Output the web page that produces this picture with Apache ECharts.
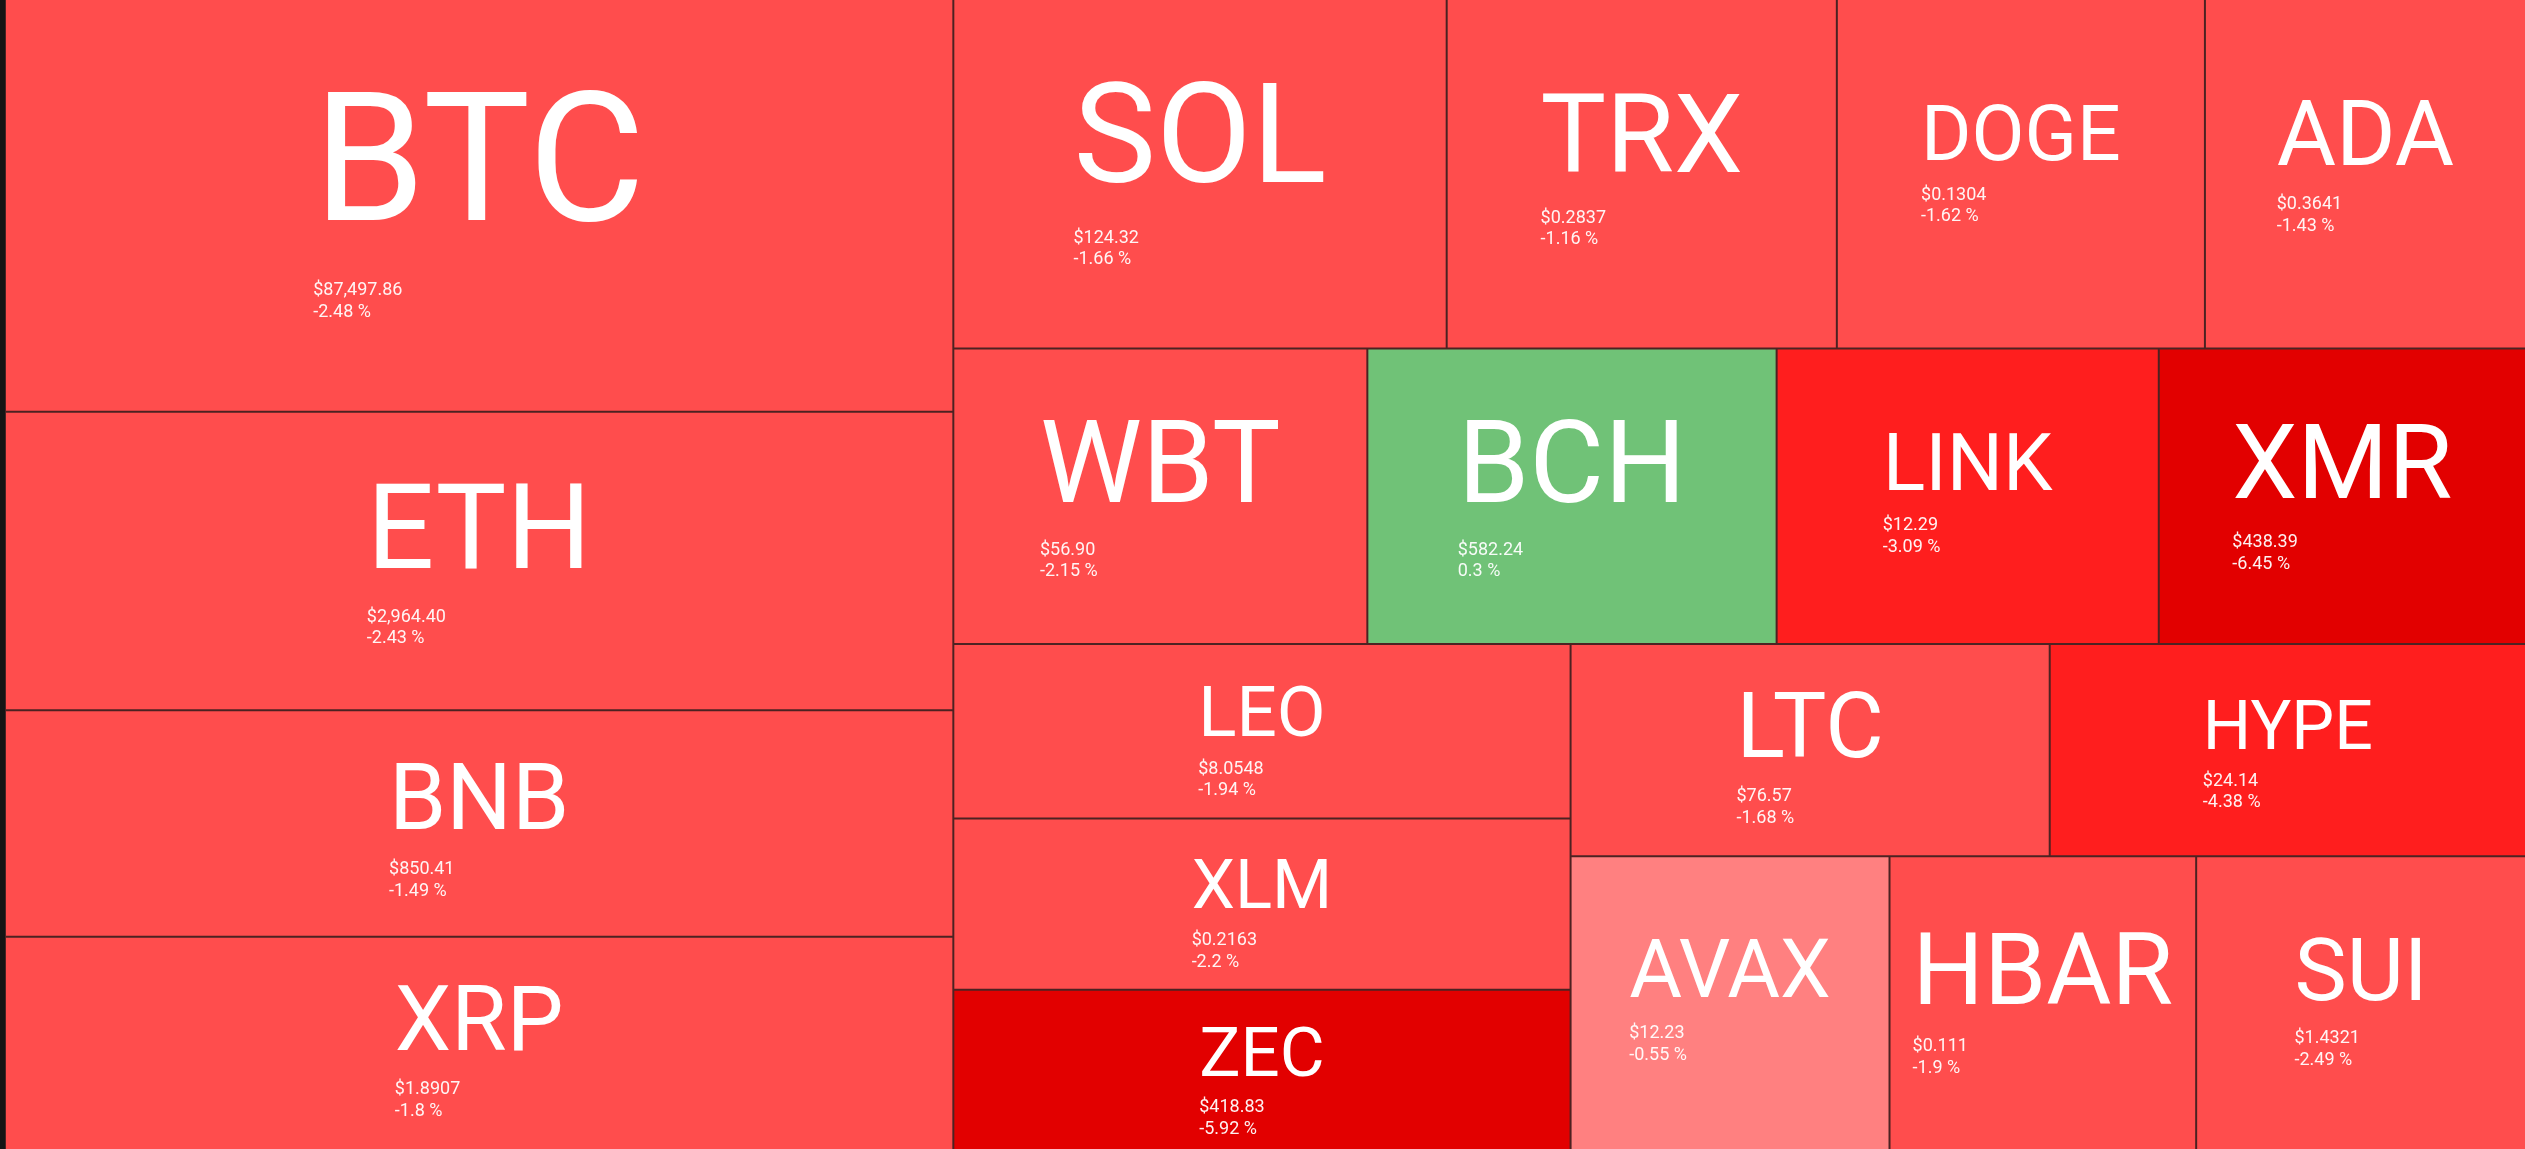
<!DOCTYPE html>
<html>
<head>
<meta charset="utf-8">
<script src="https://cdn.jsdelivr.net/npm/echarts@6/dist/echarts.min.js"></script>
<style>
  html, body { margin: 0; padding: 0; background: #151515; overflow: hidden; }
  #main { width: 2525px; height: 1149px; }
</style>
</head>
<body>
<div id="main"></div>
<script>
// ---------------- data ----------------
const tickers = ['BTC','ETH','BNB','XRP','SOL','TRX','DOGE','ADA','WBT','BCH','LINK','XMR','LEO','XLM','ZEC','LTC','HYPE','SUI','AVAX','HBAR'];
// relative tile size (area weight)
const sizes   = [390.6,282.5,214.2,201.9,172.1,136.1,128.4,112.0,122.1,120.7,112.7,108.3,107.4,105.5,98.7,101.4,100.8,96.7,93.5,89.9];
const prices  = [87497.86,2964.40,850.41,1.8907,124.32,0.2837,0.1304,0.3641,56.90,582.24,12.29,438.39,8.0548,0.2163,418.83,76.57,24.14,1.4321,12.23,0.111];
const changes = [-2.48,-2.43,-1.49,-1.8,-1.66,-1.16,-1.62,-1.43,-2.15,0.3,-3.09,-6.45,-1.94,-2.2,-5.92,-1.68,-4.38,-2.49,-0.55,-1.9];

// hierarchy used to group the tiles
const grouping = [
  [[['BTC','ETH'],'BNB'],'XRP'],
  [
    [[['SOL','TRX'],'DOGE'],'ADA'],
    [
      [[['WBT','BCH'],'LINK'],'XMR'],
      [
        [['LEO','XLM'],'ZEC'],
        [['LTC','HYPE'],[['AVAX','HBAR'],'SUI']]
      ]
    ]
  ]
];

// ---------------- styles ----------------
const tickerFont = {BTC:180, ETH:119, BNB:92, XRP:90, SOL:139, TRX:110, DOGE:77, ADA:91, WBT:115, BCH:115,
  LINK:79, XMR:104, LEO:71, XLM:69, ZEC:69, LTC:90, HYPE:68, SUI:88, AVAX:81, HBAR:100};
const FONT = 'Roboto';
const BORDER = 1;
const BORDER_COLOR = '#4d2323';
const TICKER_Y = 0.383;

function cellColor(c) {
  if (c >= 0) return '#70c277';
  if (c > -1) return '#ff8080';
  if (c > -3) return '#ff4d4d';
  if (c > -5) return '#ff1e1e';
  return '#e20000';
}
function fmtPrice(p) {
  return '$' + (p >= 10
    ? p.toLocaleString('en-US', {minimumFractionDigits: 2, maximumFractionDigits: 2})
    : String(p));
}
function fmtChange(c) { return c + ' %'; }

const measureCtx = document.createElement('canvas').getContext('2d');

function leafNode(t, layouts) {
  const i = tickers.indexOf(t);
  const F = tickerFont[t];
  const h1 = 1.18 * F - 3.5;
  let pad = [0, 0, 0, 0];
  const L = layouts && layouts[t];
  if (L) {
    const w = L.width - 2 * BORDER, h = L.height - 2 * BORDER;
    measureCtx.font = F + 'px ' + FONT;
    const adv = measureCtx.measureText(t).width;
    pad = [Math.max(0, TICKER_Y * h - 0.49 * F + 1.75), 0, 0, Math.max(0, (w - adv) / 2)];
  }
  return {
    name: t,
    value: sizes[i],
    itemStyle: { color: cellColor(changes[i]), borderColor: BORDER_COLOR, borderWidth: BORDER },
    label: {
      padding: pad,
      rich: {
        t: { fontSize: F, lineHeight: h1, fontFamily: FONT, color: '#ffffff', align: 'left' },
        p: { fontSize: 18, lineHeight: 21.5, fontFamily: FONT, color: 'rgba(255,255,255,0.94)', align: 'left' }
      }
    }
  };
}

function build(g, layouts) {
  if (typeof g === 'string') return leafNode(g, layouts);
  return { name: '', children: g.map(c => build(c, layouts)) };
}

function buildOption(layouts) {
  return {
    animation: false,
    backgroundColor: 'transparent',
    series: [{
      type: 'treemap',
      left: 5, top: -1, right: -1, bottom: -1,
      squareRatio: 2.07,
      sort: false,
      roam: false,
      nodeClick: false,
      breadcrumb: { show: false },
      itemStyle: { borderWidth: 0, gapWidth: 0, borderColor: BORDER_COLOR },
      upperLabel: { show: false },
      label: {
        show: true,
        position: 'inside',
        overflow: 'truncate',
        formatter: function (p) {
          const i = tickers.indexOf(p.name);
          if (i < 0) return '';
          return '{t|' + p.name + '}\n{p|' + fmtPrice(prices[i]) + '}\n{p|' + fmtChange(changes[i]) + '}';
        }
      },
      data: build(grouping, layouts).children
    }]
  };
}

const chart = echarts.init(document.getElementById('main'), null, { renderer: 'canvas' });
chart.setOption(buildOption(null));

function readLayouts() {
  const out = {};
  try {
    const sm = chart.getModel().getSeriesByIndex(0);
    const tree = sm.getData().tree;
    tree.eachNode(function (node) {
      if (!node.children || !node.children.length) {
        const l = node.getLayout();
        if (l && node.name) out[node.name] = l;
      }
    });
  } catch (e) { console.error(e); }
  return out;
}
const layouts = readLayouts();
chart.setOption(buildOption(layouts), true);
</script>
</body>
</html>
